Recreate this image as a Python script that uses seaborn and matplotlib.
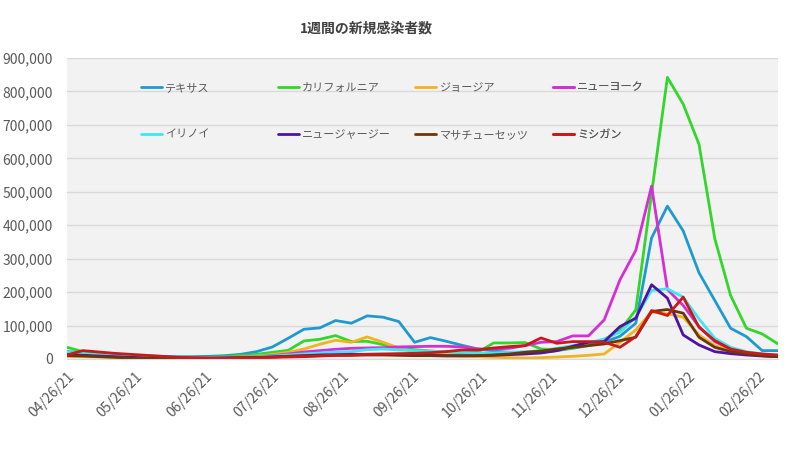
import pandas as pd
import numpy as np
import matplotlib
matplotlib.use("Agg")
import matplotlib.pyplot as plt
import matplotlib.dates as mdates
from matplotlib.ticker import FuncFormatter
from matplotlib.lines import Line2D
import seaborn as sns

# weekly new cases (thousands), week starting 2021-04-26
weeks = pd.date_range("2021-04-26", periods=46, freq="7D")

states = ["テキサス", "カリフォルニア", "ジョージア", "ニューヨーク",
          "イリノイ", "ニュージャージー", "マサチューセッツ", "ミシガン"]
colors = ["#1f9ad0", "#33d62a", "#f0b420", "#d42fd4",
          "#40e6f0", "#4e12a4", "#6e3608", "#c81a1a"]

texas = [22, 19, 16, 13, 11, 9, 8, 7, 7, 8, 10, 14, 22, 36, 62, 89, 93, 115, 107, 129,
         125, 112, 50, 64, 53, 41, 30, 24, 20, 19, 20, 25, 32, 40, 50, 68, 107, 362, 457, 383,
         258, 175, 92, 67, 25, 25]
california = [35, 22, 15, 10, 7, 5, 4, 4, 4, 5, 7, 10, 14, 20, 26, 54, 59, 70, 52, 53,
              43, 34, 28, 24, 21, 19, 20, 48, 48, 49, 30, 28, 33, 42, 58, 85, 147, 495, 842, 762,
              642, 360, 190, 92, 75, 45]
georgia = [8, 7, 6, 5, 4, 3, 3, 2, 2, 3, 4, 6, 9, 13, 20, 30, 44, 56, 50, 66,
           50, 33, 22, 16, 12, 9, 7, 5, 4, 3, 4, 6, 8, 11, 15, 50, 87, 140, 135, 125,
           72, 40, 25, 15, 10, 7]
new_york = [16, 14, 11, 8, 6, 4, 3, 3, 3, 3, 4, 5, 7, 10, 15, 21, 25, 29, 32, 33,
            34, 36, 37, 38, 38, 36, 30, 30, 32, 40, 50, 52, 69, 69, 117, 237, 325, 517, 208, 160,
            97, 52, 30, 20, 14, 10]
illinois = [20, 17, 13, 10, 7, 5, 4, 3, 3, 3, 4, 5, 7, 9, 12, 15, 18, 21, 22, 28,
            30, 27, 25, 23, 22, 20, 18, 18, 20, 22, 25, 32, 40, 48, 60, 80, 125, 205, 210, 185,
            120, 62, 35, 22, 15, 10]
new_jersey = [13, 11, 9, 7, 5, 3, 2, 2, 2, 2, 3, 4, 5, 6, 8, 10, 12, 13, 14, 14,
              14, 13, 12, 11, 10, 10, 10, 11, 13, 15, 18, 25, 38, 50, 52, 97, 122, 222, 182, 72,
              42, 22, 16, 12, 9, 7]
massachusetts = [10, 9, 7, 5, 3, 2, 1, 1, 1, 1, 2, 3, 4, 6, 8, 9, 10, 11, 11, 12,
                 12, 11, 10, 10, 9, 9, 10, 12, 15, 20, 24, 30, 35, 40, 45, 55, 65, 142, 148, 137,
                 65, 35, 22, 15, 10, 7]
michigan = [12, 25, 21, 17, 14, 11, 8, 5, 4, 3, 3, 4, 4, 5, 6, 7, 9, 11, 12, 14,
            15, 16, 17, 19, 22, 27, 27, 33, 37, 40, 63, 47, 52, 52, 50, 35, 67, 145, 130, 185,
            95, 55, 30, 20, 15, 12]

series = [texas, california, georgia, new_york, illinois, new_jersey, massachusetts, michigan]
frames = []
for name, vals in zip(states, series):
    frames.append(pd.DataFrame({"week": weeks, "state": name, "cases": np.array(vals) * 1000}))
df = pd.concat(frames, ignore_index=True)

sns.set_style("white")
plt.rcParams["font.family"] = ["Noto Sans CJK JP", "DejaVu Sans"]

fig = plt.figure(figsize=(8, 4.54), dpi=100)
ax = fig.add_axes([67 / 800, 1 - 359 / 454, 711 / 800, 301 / 454])
ax.set_facecolor("#f2f2f2")

sns.lineplot(data=df, x="week", y="cases", hue="state", hue_order=states,
             palette=colors, linewidth=2, legend=False, ax=ax)

ax.set_xlim(weeks[0], weeks[-1])
ax.set_ylim(0, 900000)
ax.set_yticks(np.arange(0, 900001, 100000))
ax.yaxis.set_major_formatter(FuncFormatter(lambda v, p: f"{v:,.0f}"))
ax.xaxis.set_major_locator(mdates.MonthLocator(bymonthday=26))
ax.xaxis.set_major_formatter(mdates.DateFormatter("%m/%d/%y"))
ax.grid(axis="y", color="#d9d9d9", linewidth=1)
ax.set_axisbelow(True)
for s in ["top", "right", "left"]:
    ax.spines[s].set_visible(False)
ax.spines["bottom"].set_color("#d9d9d9")
ax.tick_params(axis="y", length=0, labelsize=10, labelcolor="#595959", pad=10)
ax.tick_params(axis="x", length=4, color="#d9d9d9", labelsize=10, labelcolor="#595959")
plt.setp(ax.get_xticklabels(), rotation=45, ha="right", rotation_mode="anchor")
ax.set_xlabel("")
ax.set_ylabel("")

# legend: 4 columns x 2 rows
handles = [Line2D([], [], color=c, linewidth=2) for c in colors]
col_x = [0.1037, 0.2963, 0.4895, 0.6835]
for j, x in enumerate(col_x):
    leg = ax.legend([handles[j], handles[j + 4]], [states[j], states[j + 4]],
                    loc="upper left", bbox_to_anchor=(x, 0.918), frameon=False,
                    borderaxespad=0, borderpad=0, fontsize=8, handlelength=1.9,
                    handletextpad=0.3, labelspacing=3.35)
    for t in leg.get_texts():
        t.set_color("#595959")
    ax.add_artist(leg)

fig.text(0.4575, 0.937, "1週間の新規感染者数", ha="center", va="center",
         fontsize=10, fontweight="bold", color="#404040")

fig.savefig("out.png", dpi=100)
